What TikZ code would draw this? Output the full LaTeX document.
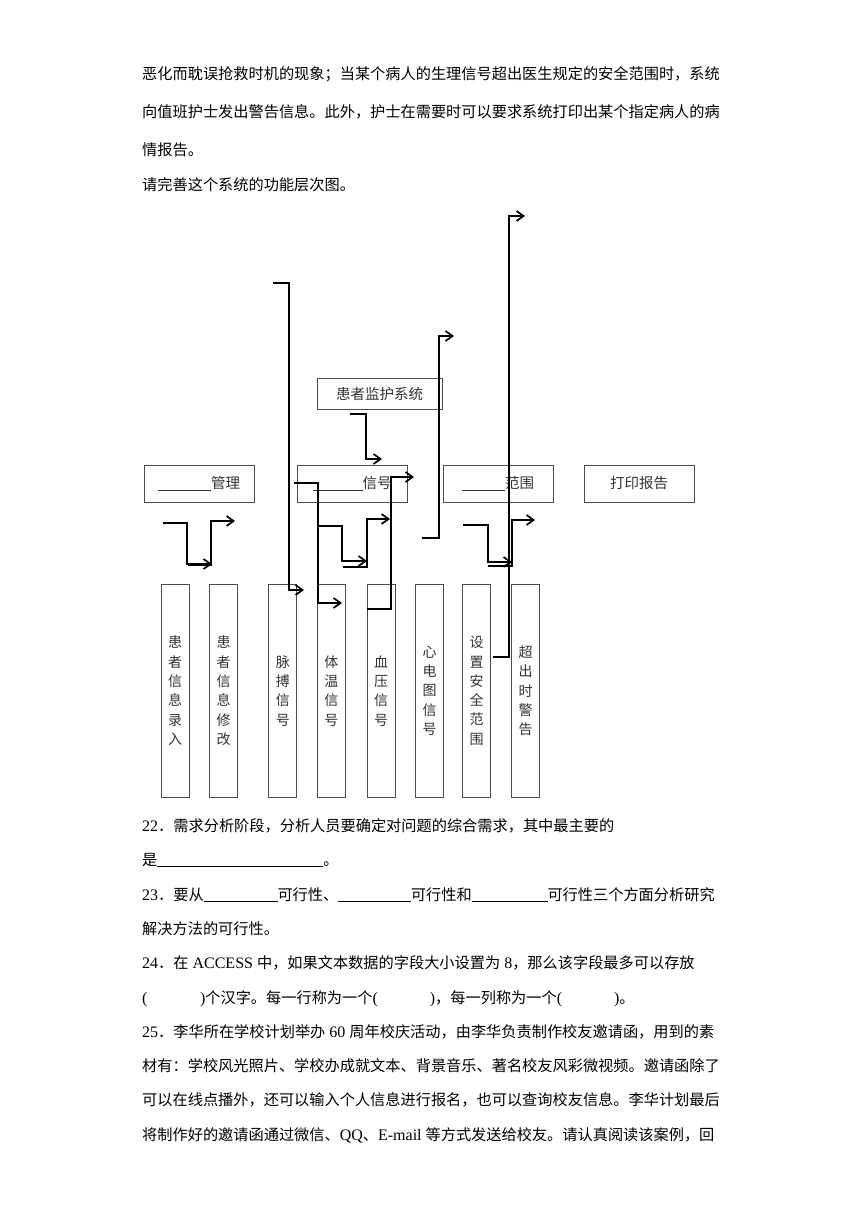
\documentclass[tikz,border=0pt]{standalone}
\usepackage{fontspec}
\setmainfont{Liberation Serif}
\newfontfamily\cjk{Noto Sans CJK SC}
\usetikzlibrary{arrows.meta}
\newcommand\lat[1]{{\rmfamily\fontsize{16}{18}\selectfont #1}}
\newcommand\fillin[1]{\rule[-1.6pt]{#1}{0.8pt}}
\begin{document}
\begin{tikzpicture}[x=1pt,y=-1pt,
  txt/.style={anchor=base west, inner sep=0pt, font=\cjk\fontsize{15.2}{18}\selectfont, text=black},
  box/.style={draw=black!70, line width=1pt, minimum width=110pt, minimum height=37pt, inner sep=0pt, font=\cjk\fontsize{14.5}{17}\selectfont, text=black!80},
  leaf/.style={draw=black!70, line width=1pt, minimum width=28pt, minimum height=213pt, inner sep=0pt, align=center, font=\cjk\fontsize{14}{19.3}\selectfont, text=black!80},
  conn/.style={line width=1.7pt, -{Straight Barb[length=7pt,width=10pt]}}
]
\fill[white] (0,0) rectangle (860,1216);
\useasboundingbox (0,0) rectangle (860,1216);

% body text, top
\node[txt] (p1) at (142,79.5) {恶化而耽误抢救时机的现象；当某个病人的生理信号超出医生规定的安全范围时，系统};
\node[txt] (p2) at (142,117.5) {向值班护士发出警告信息。此外，护士在需要时可以要求系统打印出某个指定病人的病};
\node[txt] (p3) at (142,155) {情报告。};
\node[txt] (p4) at (142,190.5) {请完善这个系统的功能层次图。};

% diagram boxes
\node[box, minimum width=125pt, minimum height=31pt] (root) at (379.5,393.5) {患者监护系统};
\node[box] (mgmt) at (199,483.5) {\fillin{53pt}管理};
\node[box] (sig) at (352,483.5) {\fillin{50pt}信号};
\node[box] (rng) at (498,483.5) {\fillin{43pt}范围};
\node[box] (prt) at (639,483.5) {打印报告};

\node[leaf] (l1) at (175.2,690.8) {患\\者\\信\\息\\录\\入};
\node[leaf] (l2) at (223.5,690.8) {患\\者\\信\\息\\修\\改};
\node[leaf] (l3) at (282.8,690.8) {脉\\搏\\信\\号};
\node[leaf] (l4) at (331.3,690.8) {体\\温\\信\\号};
\node[leaf] (l5) at (381.2,690.8) {血\\压\\信\\号};
\node[leaf] (l6) at (429.7,690.8) {心\\电\\图\\信\\号};
\node[leaf] (l7) at (476.7,690.8) {设\\置\\安\\全\\范\\围};
\node[leaf] (l8) at (525.7,690.8) {超\\出\\时\\警\\告};

% connector end points
\coordinate (aS) at (273,283);  \coordinate (aE) at (304,590);
\coordinate (bS) at (493,657);  \coordinate (bE) at (525,216);
\coordinate (cS) at (422,538);  \coordinate (cE) at (454,336);
\coordinate (dS) at (350,414);  \coordinate (dE) at (382,459);
\coordinate (eS) at (367,609);  \coordinate (eE) at (414,477);
\coordinate (fS) at (318,526);  \coordinate (fE) at (367,561);
\coordinate (gS) at (343,567);  \coordinate (gE) at (390,519);
\coordinate (hS) at (294,483);  \coordinate (hE) at (342,603);
\coordinate (iS) at (163,523);  \coordinate (iE) at (212,564);
\coordinate (jS) at (188,565);  \coordinate (jE) at (235,521);
\coordinate (kS) at (463,525);  \coordinate (kE) at (512,562);
\coordinate (lS) at (488,566);  \coordinate (lE) at (535,520);

\draw[conn] (aS) -- ++(16,0) |- (aE);
\draw[conn] (bS) -- ++(16,0) |- (bE);
\draw[conn] (cS) -- ++(17,0) |- (cE);
\draw[conn] (dS) -- ++(16,0) |- (dE);
\draw[conn] (eS) -- ++(24,0) |- (eE);
\draw[conn] (fS) -- ++(24,0) |- (fE);
\draw[conn] (gS) -- ++(24,0) |- (gE);
\draw[conn] (hS) -- ++(24,0) |- (hE);
\draw[conn] (iS) -- ++(24,0) |- (iE);
\draw[conn] (jS) -- ++(23,0) |- (jE);
\draw[conn] (kS) -- ++(25,0) |- (kE);
\draw[conn] (lS) -- ++(24,0) |- (lE);

% body text, bottom
\node[txt] (q1) at (142,831.5) {\lat{22}．需求分析阶段，分析人员要确定对问题的综合需求，其中最主要的};
\node[txt] (q2) at (142,865.5) {是\fillin{166pt}。};
\node[txt] (q3) at (142,900.5) {\lat{23}．要从\fillin{73.7pt}可行性、\fillin{72.6pt}可行性和\fillin{75.8pt}可行性三个方面分析研究};
\node[txt] (q4) at (142,934.5) {解决方法的可行性。};
\node[txt] (q5) at (142,968.5) {\lat{24}．在\lat{\ ACCESS\ }中，如果文本数据的字段大小设置为\lat{\ 8}，那么该字段最多可以存放};
\node[txt] (q6) at (142,1003.5) {\lat{(}\hspace{52.5pt}\lat{)}个汉字。每一行称为一个\lat{(}\hspace{52pt}\lat{)}，每一列称为一个\lat{(}\hspace{52pt}\lat{)}。};
\node[txt] (q7) at (142,1037.5) {\lat{25}．李华所在学校计划举办\lat{\ 60\ }周年校庆活动，由李华负责制作校友邀请函，用到的素};
\node[txt] (q8) at (142,1071.5) {材有：学校风光照片、学校办成就文本、背景音乐、著名校友风彩微视频。邀请函除了};
\node[txt] (q9) at (142,1105.5) {可以在线点播外，还可以输入个人信息进行报名，也可以查询校友信息。李华计划最后};
\node[txt] (q10) at (142,1140.5) {将制作好的邀请函通过微信、\lat{QQ}、\lat{E-mail\ }等方式发送给校友。请认真阅读该案例，回};
\end{tikzpicture}
\end{document}
